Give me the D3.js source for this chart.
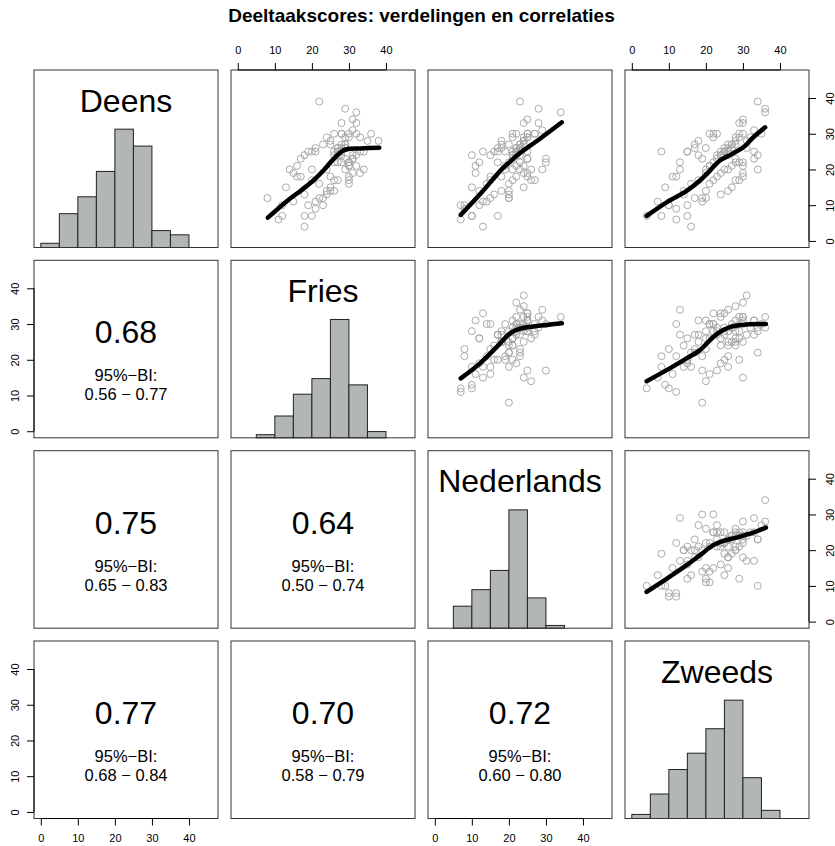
<!DOCTYPE html>
<html><head><meta charset="utf-8">
<script src="https://cdn.jsdelivr.net/npm/d3@7/dist/d3.min.js"></script>
<style>
body{margin:0;background:#fff}
text{font-family:"Liberation Sans",Arial,Helvetica,sans-serif}
</style>
</head><body>
<svg id="chart" width="835" height="846"></svg>
<script>
// ---------- data ----------
const chartTitle = "Deeltaakscores: verdelingen en correlaties";
const variables = ["Deens", "Fries", "Nederlands", "Zweeds"];

const deens = [4,6,7,7,7,12,24,28,36,37,39,34,33,33,31,25,22,18,15,11,
  9,10,10,10,11,12,12,13,13,14, 14,14,15,16,16,17,17,17,17,18,
  18,18,19,19,19,20,20,20,20,20, 21,21,21,21,22,22,22,22,23,23,
  23,23,24,24,24,24,24,25,25,25, 25,25,25,25,25,26,26,26,26,26,
  26,27,27,27,27,27,28,28,29,29, 29,29,30,30,30,30,30,30];
const fries = [18,11,12,18,20,8,28,38,32,29,22,31,32,28,31,21,27,16,13,15,
  21,12,19,23,21,22,23,18,24,24, 26,25,25,30,22,26,30,20,27,17,
  25,30,33,15,31,20,29,14,24,34, 30,30,32,16,28,30,30,26,31,29,
  17,31,27,31,18,26,32,33,26,19, 27,28,34,27,20,29,27,21,28,27,
  29,28,23,29,25,29,25,35,29,24, 30,33,30,32,36,26,28,28];
const nederlands = [13,7,10,10,17,20,10,24,34,28,23,25,28,24,29,19,17,15,10,13,
  8,7,12,8,14,20,15,20,16,20, 12,18,24,14,20,26,15,21,27,25,
  18,22,25,24,11,19,23,26,21,29, 22,19,24,11,20,23,30,12,25,21,
  30,25,23,21,15,21,22,13,21,22, 17,25,23,22,16,22,18,23,22,17,
  23,18,23,24,20,23,18,24,25,21, 24,25,27,25,22,21,27,25];
const zweeds = [16,12,4,8,15,19,34,31,36,36,34,30,30,29,33,8,13,11,9,7,
  12,10,15,10,19,17,20,14,24,14, 20,26,27,21,16,28,22,29,18,23,
  30,12,24,30,20,25,34,20,26,13, 21,27,30,21,28,30,22,29,28,23,
  19,33,23,18,26,24,24,25,15,24, 33,25,26,25,15,25,17,26,20,31,
  27,26,17,27,28,27,18,28,32,28, 29,22,35,29,30,21,23,22];

const breaksDeens = [0,5,10,15,20,25,30,35,40];
const breaksFries = [5,10,15,20,25,30,35,40];
const breaksNederlands = [5,10,15,20,25,30,35];
const breaksZweeds = [0,5,10,15,20,25,30,35,40];

const axisTicks = [0,10,20,30,40];
const scoreDomain = [-1.84, 47.84];

// correlations (lower panels): pair, r, 95% interval
const corrPairs = [["Deens","Fries"],["Deens","Nederlands"],["Deens","Zweeds"],
                   ["Fries","Nederlands"],["Fries","Zweeds"],["Nederlands","Zweeds"]];
const corrR    = ["0.68","0.75","0.77","0.64","0.70","0.72"];
const corrLow  = ["0.56","0.65","0.68","0.50","0.58","0.60"];
const corrHigh = ["0.77","0.83","0.84","0.74","0.79","0.80"];

// smoother curves: [x value, y value]
const smoothFriesDeens = [[8.1,6.5],[13.3,11.2],[16.9,14],[20.4,16.9],[23.1,19.7],[25.8,22.9],[28.5,25.3],[30.3,25.8],[33,25.9],[38.2,26.1]];
const smoothNedDeens   = [[7,7.3],[12.5,13.4],[18.1,20.1],[20,21.9],[23,24.6],[28.4,28.6],[34.3,33.2]];
const smoothZweDeens   = [[4,7],[9.4,10.8],[14.8,14],[18.4,16.9],[21.1,19.7],[23.8,22.5],[27,24.3],[30.1,26.2],[32.8,29],[36,31.8]];
const smoothNedFries   = [[7,14.8],[12.2,19],[17.2,24.1],[20.3,27.4],[23,28.7],[26.6,29.3],[34.3,30.2]];
const smoothZweFries   = [[4,14],[9.4,17.1],[14.8,20.4],[18.4,22.7],[22,26.4],[24.7,28.3],[27.4,29.4],[31,29.9],[36.2,30]];
const smoothZweNed     = [[4,8.3],[9.4,12],[14.8,15.8],[18.4,18.6],[22,21.4],[24.7,22.6],[28.3,23.5],[31.9,24.6],[36.2,26.3]];

// ---------- lookups ----------
const valuesOf = {Deens: deens, Fries: fries, Nederlands: nederlands, Zweeds: zweeds};
const breaksOf = {Deens: breaksDeens, Fries: breaksFries, Nederlands: breaksNederlands, Zweeds: breaksZweeds};
const smoothOf = {
  "Fries|Deens": smoothFriesDeens, "Nederlands|Deens": smoothNedDeens, "Zweeds|Deens": smoothZweDeens,
  "Nederlands|Fries": smoothNedFries, "Zweeds|Fries": smoothZweFries, "Zweeds|Nederlands": smoothZweNed
};

// ---------- layout ----------
const colX = [34, 231, 428, 625];
const rowY = [70, 260.3, 450.7, 641];
const pw = 184, ph = 177.5;

const svg = d3.select("#chart");
svg.append("rect").attr("width",835).attr("height",846).attr("fill","#fff");

svg.append("text").attr("x",421.5).attr("y",22).attr("text-anchor","middle")
  .attr("font-weight","bold").attr("font-size",19).attr("fill","#000").text(chartTitle);

function rightClosedBins(vals, br){
  return br.slice(0,-1).map((b0,k)=>{
    const b1 = br[k+1];
    return {x0:b0, x1:b1, n: vals.filter(v => (k===0 ? v>=b0 : v>b0) && v<=b1).length};
  });
}

variables.forEach((rowVar, i) => {
  variables.forEach((colVar, j) => {
    const g = svg.append("g").attr("transform",`translate(${colX[j]},${rowY[i]})`);
    const x = d3.scaleLinear().domain(scoreDomain).range([0,pw]);
    const y = d3.scaleLinear().domain(scoreDomain).range([ph,0]);

    if (i === j) {
      const bins = rightClosedBins(valuesOf[rowVar], breaksOf[rowVar]);
      const maxN = d3.max(bins, b=>b.n);
      const hy = d3.scaleLinear().domain([0, maxN*1.5]).range([ph,0]);
      g.selectAll("rect.bar").data(bins).join("rect").attr("class","bar")
        .attr("x", b=>x(b.x0)).attr("width", b=>x(b.x1)-x(b.x0))
        .attr("y", b=>hy(b.n)).attr("height", b=>hy(0)-hy(b.n))
        .attr("fill","#b3b6b6").attr("stroke","#222").attr("stroke-width",1);
      g.append("text").attr("x",pw/2).attr("y",41.5).attr("text-anchor","middle")
        .attr("font-size",32).attr("fill","#000").text(rowVar);
    } else if (i < j) {
      const xv = valuesOf[colVar], yv = valuesOf[rowVar];
      g.selectAll("circle").data(xv.map((v,k)=>[v,yv[k]])).join("circle")
        .attr("cx", d=>x(d[0])).attr("cy", d=>y(d[1])).attr("r",3.5)
        .attr("fill","none").attr("stroke","#a2a2a2").attr("stroke-width",0.9);
      const sm = smoothOf[colVar+"|"+rowVar];
      g.append("path").attr("d", d3.line().x(d=>x(d[0])).y(d=>y(d[1])).curve(d3.curveCatmullRom)(sm))
        .attr("fill","none").attr("stroke","#000").attr("stroke-width",4.5)
        .attr("stroke-linecap","round").attr("stroke-linejoin","round");
    } else {
      const k = corrPairs.findIndex(p => p[0]===colVar && p[1]===rowVar);
      g.append("text").attr("x",pw/2).attr("y",83).attr("text-anchor","middle")
        .attr("font-size",32).attr("fill","#000").text(corrR[k]);
      g.append("text").attr("x",pw/2).attr("y",121).attr("text-anchor","middle")
        .attr("font-size",16.5).attr("fill","#000").text("95%\u2212BI:");
      g.append("text").attr("x",pw/2).attr("y",140).attr("text-anchor","middle")
        .attr("font-size",16.5).attr("fill","#000").text(corrLow[k]+" \u2212 "+corrHigh[k]);
    }

    g.append("rect").attr("width",pw).attr("height",ph)
      .attr("fill","none").attr("stroke","#333").attr("stroke-width",1);

    // axes (R pairs style)
    const styleAxis = (ag) => {
      ag.select(".domain").remove();
      ag.selectAll("line").attr("stroke","#000");
      ag.selectAll("text").attr("font-size",11).attr("fill","#000")
        .style("font-family","'Liberation Sans',Arial,Helvetica,sans-serif");
    };
    if (i === 0 && j % 2 === 1) {
      const ag = g.append("g").call(d3.axisTop(x).tickValues(axisTicks).tickSize(7).tickPadding(9));
      styleAxis(ag);
      ag.append("line").attr("x1",x(0)).attr("x2",x(40)).attr("stroke","#000");
    }
    if (i === 3 && j % 2 === 0) {
      const ag = g.append("g").attr("transform",`translate(0,${ph})`)
        .call(d3.axisBottom(x).tickValues(axisTicks).tickSize(7).tickPadding(9));
      styleAxis(ag);
      ag.append("line").attr("x1",x(0)).attr("x2",x(40)).attr("stroke","#000");
    }
    if (j === 0 && i % 2 === 1) {
      const ag = g.append("g").call(d3.axisLeft(y).tickValues(axisTicks).tickSize(7));
      styleAxis(ag);
      ag.selectAll("text").attr("transform","rotate(-90)").attr("x",0).attr("y",-15)
        .attr("dy",0).attr("text-anchor","middle");
      ag.append("line").attr("y1",y(0)).attr("y2",y(40)).attr("stroke","#000");
    }
    if (j === 3 && i % 2 === 0) {
      const ag = g.append("g").attr("transform",`translate(${pw},0)`)
        .call(d3.axisRight(y).tickValues(axisTicks).tickSize(7));
      styleAxis(ag);
      ag.selectAll("text").attr("transform","rotate(-90)").attr("x",0).attr("y",25)
        .attr("dy",0).attr("text-anchor","middle");
      ag.append("line").attr("y1",y(0)).attr("y2",y(40)).attr("stroke","#000");
    }
  });
});
</script>
</body></html>
